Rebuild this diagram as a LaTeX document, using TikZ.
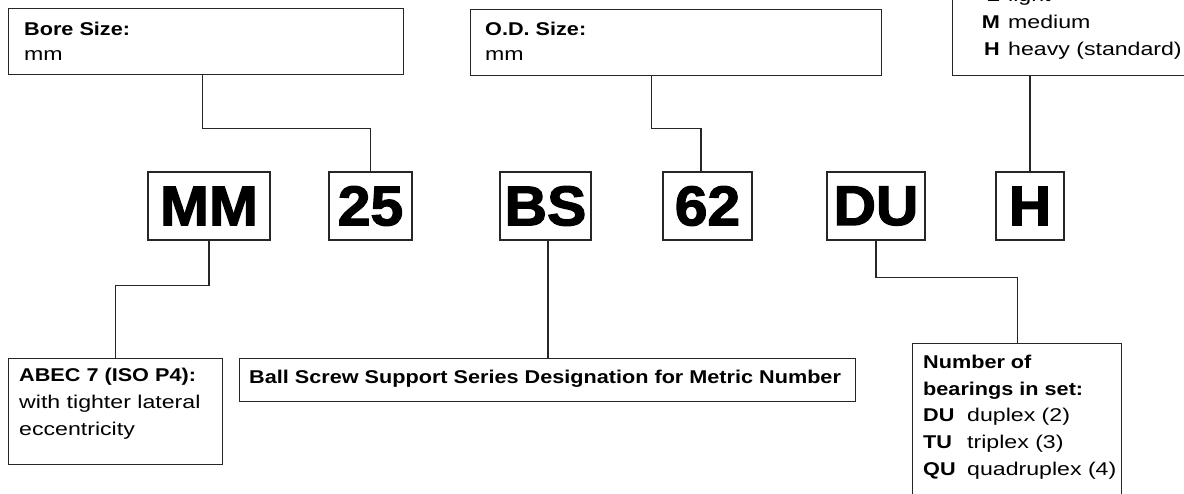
\documentclass[tikz,border=0pt]{standalone}
\usepackage{fontspec}
\newfontfamily\labr[FakeStretch=1.25]{Liberation Sans}
\newfontfamily\labb[FakeStretch=1.17]{Liberation Sans}
\newfontfamily\codef[FakeStretch=1.05,FakeBold=2.2]{Liberation Sans}
\tikzset{
  frame/.style={draw=black!85, line width=1.2pt, inner sep=0pt, anchor=north west},
  code/.style={draw=black!85, line width=1.2pt, inner sep=0pt, minimum height=68,
    font=\codef\bfseries\fontsize{56}{56}\selectfont},
  lbl/.style={anchor=base west, inner sep=0pt, font=\labb\bfseries\fontsize{18.5}{22}\selectfont},
  lble/.style={anchor=base east, inner sep=0pt, font=\labb\bfseries\fontsize{18.5}{22}\selectfont},
  txt/.style={anchor=base west, inner sep=0pt, font=\labr\fontsize{18.5}{22}\selectfont},
  link/.style={draw=black!85, line width=1.2pt},
}
\begin{document}
\begin{tikzpicture}[x=1pt,y=-1pt]
\useasboundingbox (0,0) rectangle (1184,493);
\clip (0,0) rectangle (1184,493);

% top boxes
\node[frame, minimum width=395, minimum height=66] (bore) at (8,8) {};
\node[lbl] (boret) at (24,35) {Bore Size:};
\node[txt] (borem) at (24,60) {mm};

\node[frame, minimum width=411, minimum height=66] (od) at (470,9) {};
\node[lbl] (odt) at (485,35) {O.D. Size:};
\node[txt] (odm) at (485,60) {mm};

\node[frame, minimum width=260, minimum height=95] (load) at (952,-20) {};
\node[lble] (lL) at (1000,1) {L};
\node[txt] (lLt) at (1008,1) {light};
\node[lble] (lM) at (1000,28) {M};
\node[txt] (lMt) at (1008,28) {medium};
\node[lble] (lH) at (1000,55) {H};
\node[txt] (lHt) at (1008,55) {heavy (standard)};

% code boxes
\node[code, minimum width=122] (mm) at (209,206) {MM};
\node[code, minimum width=83] (b25) at (370.5,206) {25};
\node[code, minimum width=91] (bs) at (545.5,206) {BS};
\node[code, minimum width=89] (b62) at (707.5,206) {62};
\node[code, minimum width=98] (du) at (876,206) {DU};
\node[code, minimum width=68] (hh) at (1030,206) {H};

% bottom boxes
\node[frame, minimum width=214, minimum height=106] (abec) at (8,358) {};
\node[lbl] (abect) at (19,381) {ABEC 7 (ISO P4):};
\node[txt] (abec1) at (19,408) {with tighter lateral};
\node[txt] (abec2) at (19,435) {eccentricity};

\node[frame, minimum width=616, minimum height=43] (ball) at (239,358) {};
\node[lbl] (ballt) at (249,383) {Ball Screw Support Series Designation for Metric Number};

\node[frame, minimum width=209, minimum height=200] (num) at (912,343) {};
\node[lbl] (num1) at (923,368) {Number of};
\node[lbl] (num2) at (923,395) {bearings in set:};
\node[lbl] (du1) at (923,421) {DU};
\node[txt] (du1t) at (967,421) {duplex (2)};
\node[lbl] (tu1) at (923,448) {TU};
\node[txt] (tu1t) at (967,448) {triplex (3)};
\node[lbl] (qu1) at (923,475) {QU};
\node[txt] (qu1t) at (967,475) {quadruplex (4)};

% connectors
\draw[link] ([xshift=-3.5pt]bore.south) -- ++(0,53) -| (b25.north);
\draw[link] ([xshift=-24.5pt]od.south) -- ++(0,52) -| ([xshift=-6.5pt]b62.north);
\draw[link] (load.south -| hh.north) -- (hh.north);
\draw[link] (mm.south) -- ++(0,45) -| (abec.north);
\draw[link] ([xshift=2.5pt]bs.south) -- ([xshift=2.5pt]bs.south |- ball.north);
\draw[link] (du.south) -- ++(0,37) -| (num.north);
\end{tikzpicture}
\end{document}
